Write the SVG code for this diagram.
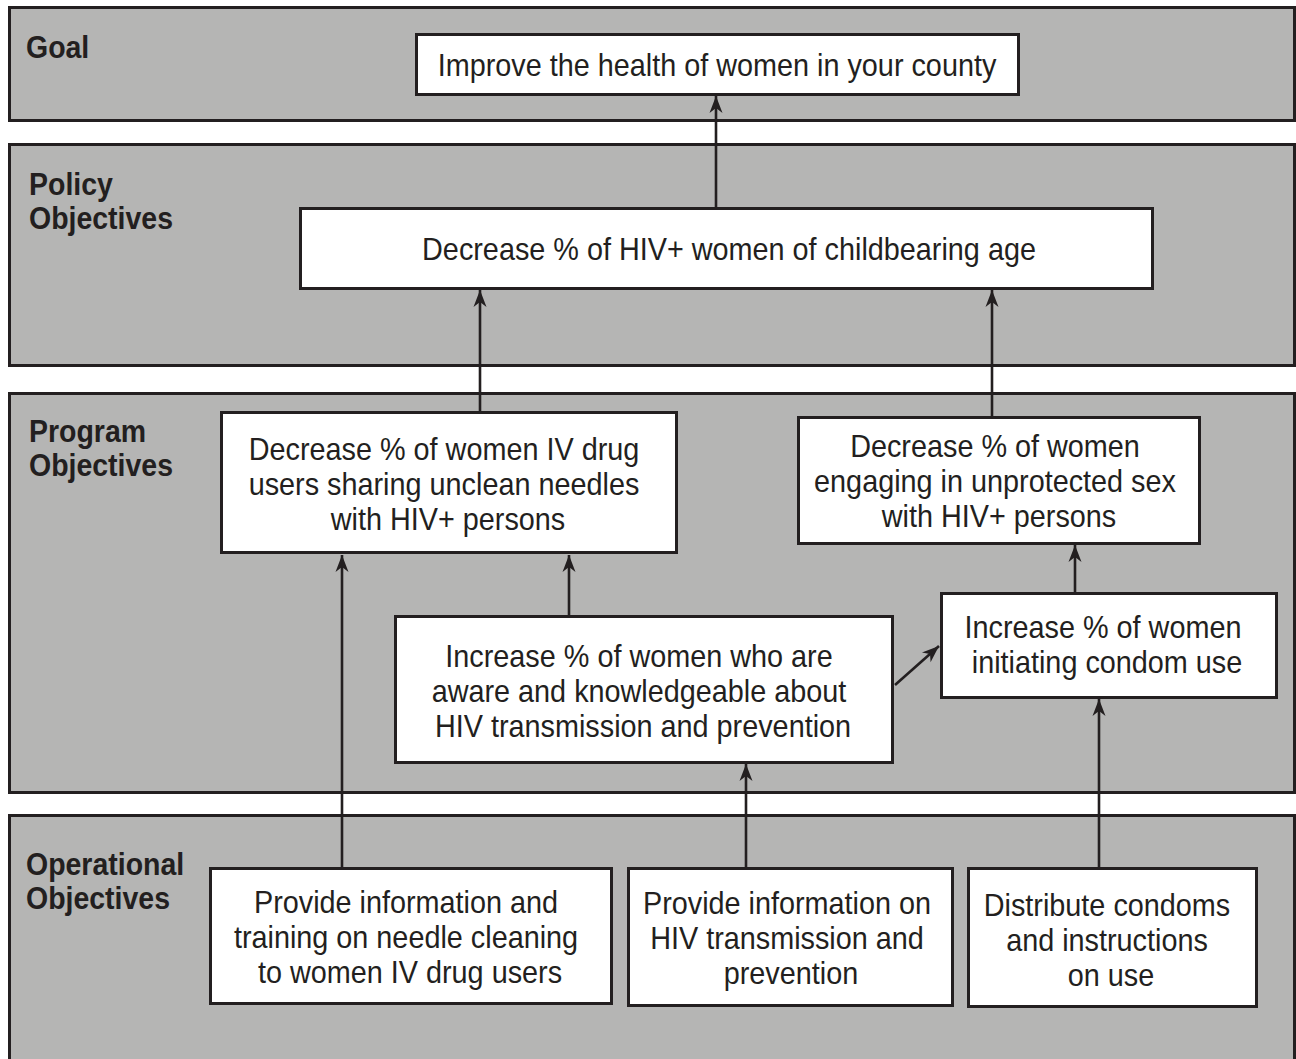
<svg xmlns="http://www.w3.org/2000/svg" width="1296" height="1059" viewBox="0 0 1296 1059">
  <style>
    .band { fill: #b5b5b4; stroke: #231f20; stroke-width: 3; }
    .box { fill: #ffffff; stroke: #231f20; stroke-width: 3; }
    .label { font-family: "Liberation Sans", Arial, sans-serif; font-weight: bold; font-size: 32px; fill: #231f20; }
    .txt { font-family: "Liberation Sans", Arial, sans-serif; font-size: 32px; fill: #231f20; text-anchor: middle; }
    .conn { stroke: #231f20; stroke-width: 2.6; fill: none; marker-end: url(#arrow); }
  </style>
  <defs>
    <marker id="arrow" markerUnits="userSpaceOnUse" viewBox="-18 -9 20 18" refX="0" refY="0" markerWidth="20" markerHeight="18" orient="auto">
      <path d="M0,0 L-17,-6.5 L-12,0 L-17,6.5 Z" fill="#231f20"/>
    </marker>
  </defs>

  <rect width="1296" height="1059" fill="#ffffff"/>

  <!-- tier bands -->
  <g id="bands">
    <rect class="band" x="9.5" y="7.5" width="1285" height="113"/>
    <rect class="band" x="9.5" y="144.5" width="1285" height="221"/>
    <rect class="band" x="9.5" y="393.5" width="1285" height="399"/>
    <rect class="band" x="9.5" y="815.5" width="1285" height="260"/>
  </g>

  <!-- tier labels -->
  <g id="tier-labels">
    <text class="label" transform="translate(26 58) scale(0.89 1)">Goal</text>
    <text class="label" transform="translate(29 195) scale(0.89 1)">Policy</text>
    <text class="label" transform="translate(29 229) scale(0.89 1)">Objectives</text>
    <text class="label" transform="translate(29 442) scale(0.89 1)">Program</text>
    <text class="label" transform="translate(29 476) scale(0.89 1)">Objectives</text>
    <text class="label" transform="translate(26 875) scale(0.89 1)">Operational</text>
    <text class="label" transform="translate(26 909) scale(0.89 1)">Objectives</text>
  </g>

  <!-- connectors -->
  <g id="connectors">
    <line class="conn" x1="716" y1="207" x2="716" y2="96"/>
    <line class="conn" x1="480" y1="411" x2="480" y2="290"/>
    <line class="conn" x1="992" y1="416" x2="992" y2="290"/>
    <line class="conn" x1="342" y1="867" x2="342" y2="555"/>
    <line class="conn" x1="569" y1="615" x2="569" y2="555"/>
    <line class="conn" x1="895" y1="685" x2="939" y2="646"/>
    <line class="conn" x1="1075" y1="592" x2="1075" y2="545"/>
    <line class="conn" x1="746" y1="867" x2="746" y2="764"/>
    <line class="conn" x1="1099" y1="867" x2="1099" y2="699"/>
  </g>

  <g id="goal">
    <rect class="box" x="416.5" y="34.5" width="602" height="60"/>
    <text class="txt" transform="translate(717 76) scale(0.9 1)">Improve the health of women in your county</text>
  </g>

  <g id="policy">
    <rect class="box" x="300.5" y="208.5" width="852" height="80"/>
    <text class="txt" transform="translate(729 260) scale(0.9 1)">Decrease % of HIV+ women of childbearing age</text>
  </g>

  <g id="program-needles">
    <rect class="box" x="221.5" y="412.5" width="455" height="140"/>
    <text class="txt" transform="translate(448 460) scale(0.9 1)">
      <tspan x="0" y="0">Decrease % of women IV drug</tspan>
      <tspan x="0" y="35">users sharing unclean needles</tspan>
      <tspan x="0" y="70">with HIV+ persons</tspan>
    </text>
  </g>

  <g id="program-sex">
    <rect class="box" x="798.5" y="417.5" width="401" height="126"/>
    <text class="txt" transform="translate(999 457) scale(0.9 1)">
      <tspan x="0" y="0">Decrease % of women</tspan>
      <tspan x="0" y="35">engaging in unprotected sex</tspan>
      <tspan x="0" y="70">with HIV+ persons</tspan>
    </text>
  </g>

  <g id="program-awareness">
    <rect class="box" x="395.5" y="616.5" width="497" height="146"/>
    <text class="txt" transform="translate(643 667) scale(0.9 1)">
      <tspan x="0" y="0">Increase % of women who are</tspan>
      <tspan x="0" y="35">aware and knowledgeable about</tspan>
      <tspan x="0" y="70">HIV transmission and prevention</tspan>
    </text>
  </g>

  <g id="program-condom">
    <rect class="box" x="941.5" y="593.5" width="335" height="104"/>
    <text class="txt" transform="translate(1107 638) scale(0.9 1)">
      <tspan x="0" y="0">Increase % of women</tspan>
      <tspan x="0" y="35">initiating condom use</tspan>
    </text>
  </g>

  <g id="op-needle-training">
    <rect class="box" x="210.5" y="868.5" width="401" height="135"/>
    <text class="txt" transform="translate(410 913) scale(0.9 1)">
      <tspan x="0" y="0">Provide information and</tspan>
      <tspan x="0" y="35">training on needle cleaning</tspan>
      <tspan x="0" y="70">to women IV drug users</tspan>
    </text>
  </g>

  <g id="op-hiv-info">
    <rect class="box" x="628.5" y="868.5" width="324" height="137"/>
    <text class="txt" transform="translate(791 914) scale(0.9 1)">
      <tspan x="0" y="0">Provide information on</tspan>
      <tspan x="0" y="35">HIV transmission and</tspan>
      <tspan x="0" y="70">prevention</tspan>
    </text>
  </g>

  <g id="op-condoms">
    <rect class="box" x="968.5" y="868.5" width="288" height="138"/>
    <text class="txt" transform="translate(1111 916) scale(0.9 1)">
      <tspan x="0" y="0">Distribute condoms</tspan>
      <tspan x="0" y="35">and instructions</tspan>
      <tspan x="0" y="70">on use</tspan>
    </text>
  </g>
</svg>
